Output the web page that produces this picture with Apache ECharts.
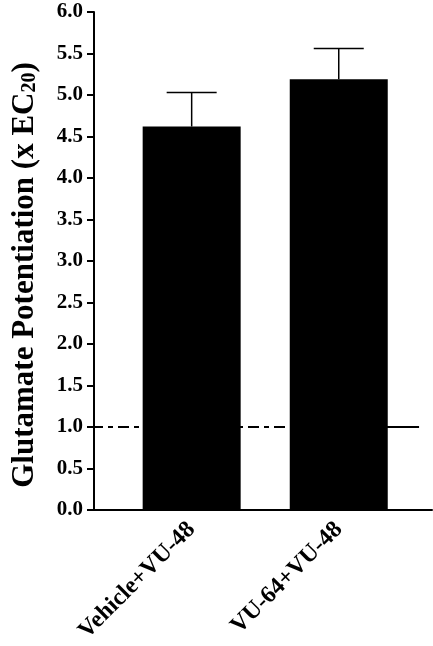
<!DOCTYPE html>
<html><head><meta charset="utf-8">
<script src="https://cdn.jsdelivr.net/npm/echarts@6/dist/echarts.min.js"></script>
<style>html,body{margin:0;padding:0;background:#fff}#c{width:433px;height:646px}</style>
</head><body><div id="c"></div>
<script>
const categories = ['Vehicle+VU-48', 'VU-64+VU-48'];
const positions = [1, 2];
const values = [4.62, 5.19];
const errorsUp = [0.41, 0.37];
const refLevel = 1.0;
const dashedRange = [0.336, 2.0];
const solidRange = [2.0, 2.546];

const FONT = "'Liberation Serif','Times New Roman',serif";
const chart = echarts.init(document.getElementById('c'));
const barData = positions.map((p, i) => [p, values[i]]);
const errData = positions.map((p, i) => [p, values[i], values[i] + errorsUp[i]]);

chart.setOption({
  animation: false,
  grid: { left: 94, right: 1, top: 12, bottom: 136, containLabel: false },
  xAxis: {
    type: 'value', min: 0.336, max: 2.634,
    splitLine: { show: false },
    axisLine: { show: true, onZero: false, lineStyle: { color: '#000', width: 2 } },
    axisTick: { show: false },
    axisLabel: {
      customValues: positions,
      rotate: 45, margin: 16,
      formatter: v => categories[positions.indexOf(v)] || '',
      fontFamily: FONT, fontWeight: 'bold', fontSize: 24, color: '#000'
    }
  },
  yAxis: {
    type: 'value', min: 0, max: 6, interval: 0.5,
    splitLine: { show: false },
    axisLine: { show: true, lineStyle: { color: '#000', width: 2 } },
    axisTick: { show: true, length: 7, lineStyle: { color: '#000', width: 2 } },
    axisLabel: {
      margin: 11, formatter: v => v.toFixed(1),
      fontFamily: FONT, fontWeight: 'bold', fontSize: 21, color: '#000'
    },
    name: '{a|Glutamate Potentiation (x EC}{s|20}{a|)}',
    nameLocation: 'middle', nameRotate: 90, nameGap: 54,
    nameTextStyle: {
      padding: [0, 28, 0, 0],
      rich: {
        a: { fontFamily: FONT, fontWeight: 'bold', fontSize: 31, color: '#000', verticalAlign: 'bottom', lineHeight: 34 },
        s: { fontFamily: FONT, fontWeight: 'bold', fontSize: 20, color: '#000', verticalAlign: 'bottom', lineHeight: 26 }
      }
    }
  },
  series: [
    {
      type: 'line', z: 1, symbol: 'none', silent: true,
      data: [[dashedRange[0], refLevel], [dashedRange[1], refLevel]],
      lineStyle: { color: '#000', width: 2, type: [11, 5, 5, 5], dashOffset: 2 }
    },
    {
      type: 'line', z: 1, symbol: 'none', silent: true,
      data: [[solidRange[0], refLevel], [solidRange[1], refLevel]],
      lineStyle: { color: '#000', width: 2, type: 'solid' }
    },
    {
      type: 'bar', z: 3, barWidth: 98, data: barData,
      itemStyle: { color: '#000' }
    },
    {
      type: 'custom', z: 4, data: errData,
      renderItem: (params, api) => {
        const x = api.value(0);
        const lo = api.coord([x, api.value(1)]);
        const hi = api.coord([x, api.value(2)]);
        const half = 25;
        return {
          type: 'group',
          children: [
            { type: 'line', shape: { x1: lo[0], y1: lo[1], x2: hi[0], y2: hi[1] }, style: { stroke: '#000', lineWidth: 1.5 } },
            { type: 'line', shape: { x1: hi[0] - half, y1: hi[1], x2: hi[0] + half, y2: hi[1] }, style: { stroke: '#000', lineWidth: 1.5 } }
          ]
        };
      }
    }
  ]
});
</script></body></html>
